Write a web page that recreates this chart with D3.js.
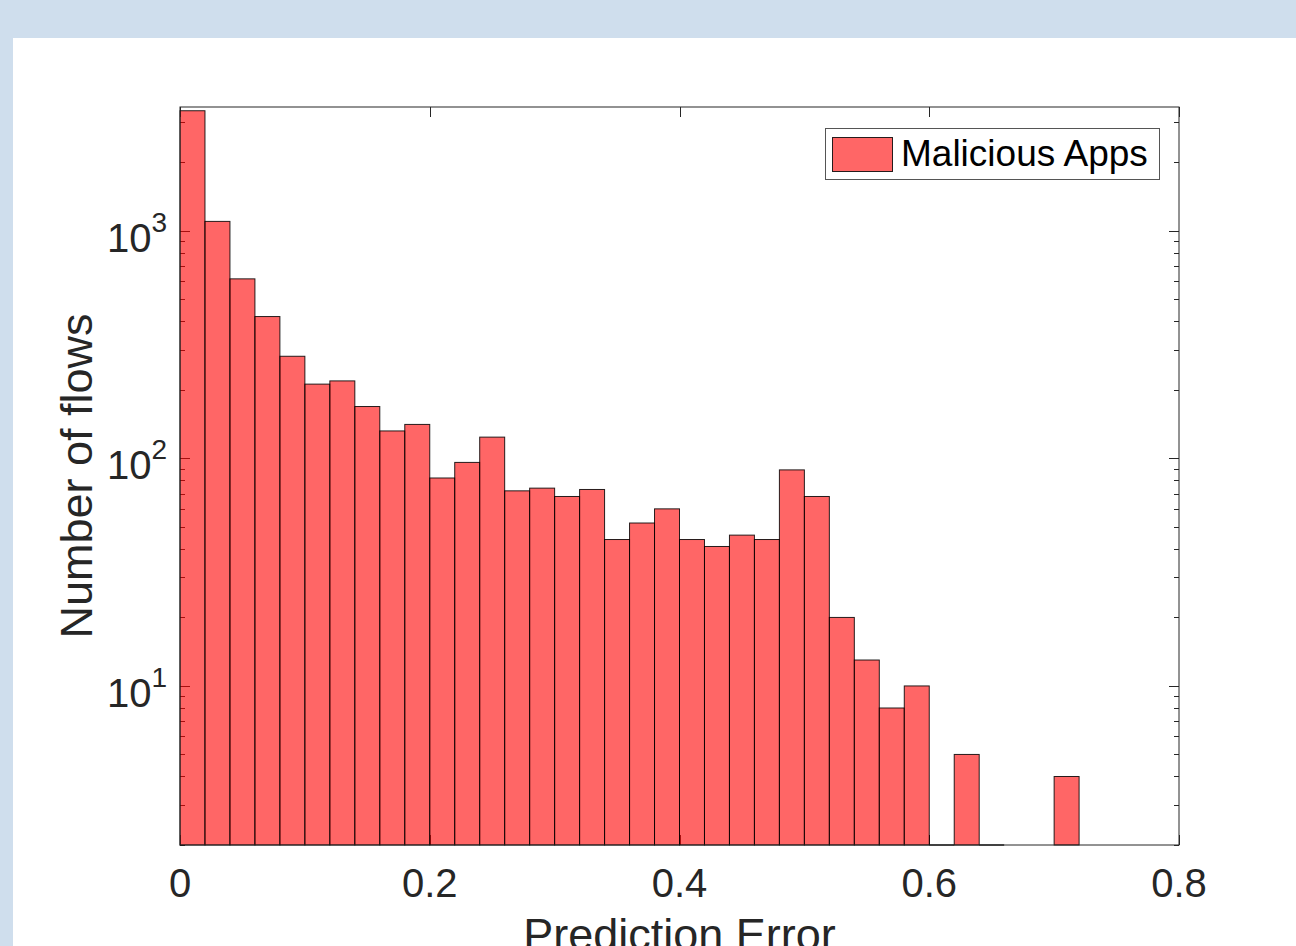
<!DOCTYPE html>
<html>
<head>
<meta charset="utf-8">
<script src="https://cdn.jsdelivr.net/npm/d3@7"></script>
<style>
  html, body { margin: 0; padding: 0; background: #cfdeed; overflow: hidden; }
  svg { display: block; }
  text { font-family: "Liberation Sans", Arial, Helvetica, sans-serif; }
</style>
</head>
<body>
<svg id="chart" width="1296" height="946"></svg>
<script>
// ---- data ----
const binLefts = [0.00, 0.02, 0.04, 0.06, 0.08, 0.10, 0.12, 0.14, 0.16, 0.18,
                  0.20, 0.22, 0.24, 0.26, 0.28, 0.30, 0.32, 0.34, 0.36, 0.38,
                  0.40, 0.42, 0.44, 0.46, 0.48, 0.50, 0.52, 0.54, 0.56, 0.58,
                  0.60, 0.62, 0.64, 0.66, 0.68, 0.70];
const binWidth = 0.02;
const counts = [3370, 1100, 615, 420, 281, 212, 219, 169, 132, 141,
                82, 96, 124, 72, 74, 68, 73, 44, 52, 60,
                44, 41, 46, 44, 89, 68, 20, 13, 8, 10,
                0, 5, 0, 0, 0, 4];
const seriesName = "Malicious Apps";
const xTicks = [0, 0.2, 0.4, 0.6, 0.8];
const xTickLabels = ["0", "0.2", "0.4", "0.6", "0.8"];
const yMajorTicks = [10, 100, 1000];
const yTickExponents = ["1", "2", "3"];
const xDomain = [0, 0.8];
const yDomain = [2, 3500];
const xLabel = "Prediction Error";
const yLabel = "Number of flows";

// ---- layout ----
const svg = d3.select("#chart");
const L = 180, R = 1179, T = 107, B = 845;
const axisColor = "#262626";
const barColor = "#ff0000";

svg.append("rect").attr("x", 0).attr("y", 0).attr("width", 1296).attr("height", 946).attr("fill", "#cfdeed");
svg.append("rect").attr("x", 13).attr("y", 38).attr("width", 1296 - 13).attr("height", 946 - 38).attr("fill", "#ffffff");

const x = d3.scaleLinear().domain(xDomain).range([L, R]);
const y = d3.scaleLog().domain(yDomain).range([B, T]);

const g = svg.append("g");

// ticks (drawn under the bars, as MATLAB layer=bottom)
const majorLen = 10, minorLen = 5;
const allY = y.ticks().filter(v => v >= yDomain[0] && v <= yDomain[1]);
const isMajor = v => yMajorTicks.some(m => Math.abs(m - v) < 1e-9);
const tickG = g.append("g").attr("stroke", axisColor).attr("stroke-width", 1);
allY.forEach(v => {
  const len = isMajor(v) ? majorLen : minorLen;
  const yy = Math.round(y(v)) + 0.5;
  tickG.append("line").attr("x1", L).attr("x2", L + len).attr("y1", yy).attr("y2", yy);
  tickG.append("line").attr("x1", R).attr("x2", R - len).attr("y1", yy).attr("y2", yy);
});
xTicks.forEach(v => {
  const xx = Math.round(x(v)) + 0.5;
  tickG.append("line").attr("x1", xx).attr("x2", xx).attr("y1", B).attr("y2", B - majorLen);
  tickG.append("line").attr("x1", xx).attr("x2", xx).attr("y1", T).attr("y2", T + majorLen);
});

// bars
const bars = binLefts.map((b, i) => ({ x0: b, x1: b + binWidth, v: counts[i], i }));
g.append("g").selectAll("rect").data(bars.filter(d => d.v > 0)).join("rect")
  .attr("x", d => x(d.x0))
  .attr("width", d => x(d.x1) - x(d.x0))
  .attr("y", d => y(d.v))
  .attr("height", d => B - y(d.v))
  .attr("fill", barColor)
  .attr("fill-opacity", 0.6)
  .attr("stroke", "#000")
  .attr("stroke-opacity", 0.85)
  .attr("stroke-width", 1);
// zero-count bins that follow a filled bin collapse to a line on the lower limit
g.append("g").selectAll("line")
  .data(bars.filter(d => d.v === 0 && d.i > 0 && counts[d.i - 1] > 0))
  .join("line")
  .attr("x1", d => x(d.x0)).attr("x2", d => x(d.x1))
  .attr("y1", B).attr("y2", B)
  .attr("stroke", "#000").attr("stroke-opacity", 0.85).attr("stroke-width", 1.5);

// box
g.append("rect").attr("x", L).attr("y", T).attr("width", R - L).attr("height", B - T)
  .attr("fill", "none").attr("stroke", axisColor).attr("stroke-width", 1);

// x tick labels
g.append("g").selectAll("text").data(xTicks).join("text")
  .attr("x", d => x(d)).attr("y", 897)
  .attr("text-anchor", "middle")
  .attr("font-size", 40).attr("fill", axisColor)
  .text((d, i) => xTickLabels[i]);

// y tick labels 10^n
yMajorTicks.forEach((v, i) => {
  const t = g.append("text")
    .attr("x", 167).attr("y", y(v) + 21)
    .attr("text-anchor", "end")
    .attr("font-size", 40).attr("fill", axisColor);
  t.append("tspan").text("10");
  t.append("tspan").attr("font-size", 28).attr("dy", -20).text(yTickExponents[i]);
});

// axis labels
g.append("text").attr("x", (L + R) / 2).attr("y", 950)
  .attr("text-anchor", "middle").attr("font-size", 45).attr("fill", axisColor)
  .text(xLabel);
g.append("text").attr("transform", `translate(92, ${(T + B) / 2}) rotate(-90)`)
  .attr("text-anchor", "middle").attr("font-size", 45).attr("fill", axisColor)
  .text(yLabel);

// legend
const lg = g.append("g");
lg.append("rect").attr("x", 825.5).attr("y", 128.5).attr("width", 334).attr("height", 51)
  .attr("fill", "#fff").attr("stroke", "#555").attr("stroke-width", 1);
lg.append("rect").attr("x", 832.5).attr("y", 137.5).attr("width", 60).attr("height", 34)
  .attr("fill", barColor).attr("fill-opacity", 0.6).attr("stroke", "#000").attr("stroke-opacity", 0.85);
lg.append("text").attr("x", 901).attr("y", 166).attr("font-size", 37).attr("fill", "#000")
  .text(seriesName);
</script>
</body>
</html>
